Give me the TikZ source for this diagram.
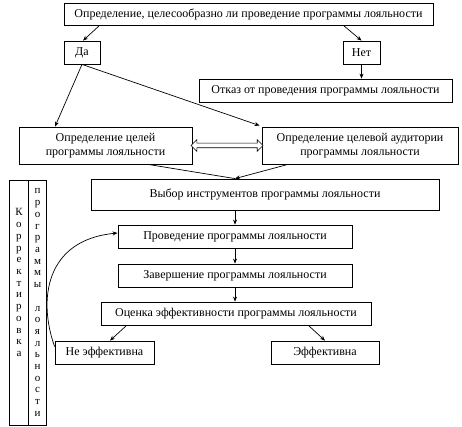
\documentclass[tikz,border=0pt]{standalone}
\usepackage{fontspec}
\setmainfont{Liberation Serif}
\usetikzlibrary{arrows.meta,calc,shapes.arrows}
\begin{document}
\begin{tikzpicture}[x=1pt,y=-1pt,
  box/.style={draw, line width=0.8pt, inner sep=0pt, align=center,
    font=\fontsize{12}{14}\selectfont},
  arr/.style={line width=0.7pt, -{Stealth[length=5pt,width=4pt]}},
  ln/.style={line width=0.7pt},
  colbox/.style={draw, line width=0.8pt, inner sep=0pt, minimum width=18.5pt, minimum height=245pt},
  letter/.style={inner sep=0pt, anchor=base, font=\fontsize{11}{11.7}\selectfont}]
\useasboundingbox (0,0) rectangle (462,427);

\node[box, minimum width=369pt, minimum height=22pt] (top) at (248.5,14) {Определение, целесообразно ли проведение программы лояльности};
\node[box, minimum width=36pt, minimum height=23pt] (da) at (82,52.5) {Да};
\node[box, minimum width=37pt, minimum height=23pt] (net) at (361.5,52.5) {Нет};
\node[box, minimum width=253pt, minimum height=23pt] (otkaz) at (325.5,90.5) {Отказ от проведения программы лояльности};
\node[box, minimum width=173pt, minimum height=37pt] (goals) at (105.5,145.5) {Определение целей\\программы лояльности};
\node[box, minimum width=196pt, minimum height=37pt] (aud) at (360,145.5) {Определение целевой аудитории\\программы лояльности};
\node[box, minimum width=348pt, minimum height=31pt] (vybor) at (265,194.5) {Выбор инструментов программы лояльности};
\node[box, minimum width=234pt, minimum height=23pt] (prov) at (235,236.5) {Проведение программы лояльности};
\node[box, minimum width=234pt, minimum height=23pt] (zav) at (235,275.5) {Завершение программы лояльности};
\node[box, minimum width=270pt, minimum height=23pt] (ocen) at (236,313.5) {Оценка эффективности программы лояльности};
\node[box, minimum width=99pt, minimum height=23pt] (neeff) at (104.5,352.5) {Не эффективна};
\node[box, minimum width=108pt, minimum height=23pt] (eff) at (325,352.5) {Эффективна};

\node[colbox] (korr) at (19,302.5) {};
\node[colbox] (progr) at (37.5,302.5) {};
\foreach [count=\i] \l in {К,о,р,р,е,к,т,и,р,о,в,к,а}
  \node[letter] (k\i) at (19,{216+11.7*(\i-1)}) {\l};
\foreach [count=\i] \l in {п,р,о,г,р,а,м,м,ы}
  \node[letter] (p\i) at (37.5,{194+11.7*(\i-1)}) {\l};
\foreach [count=\i] \l in {л,о,я,л,ь,н,о,с,т,и}
  \node[letter] (q\i) at (37.5,{194+11.7*(\i+9)}) {\l};

% connectors
\draw[arr] ([xshift=36pt]top.south west) -- ([xshift=1pt]da.north);
\draw[arr] ([xshift=-90pt]top.south east) -- (net.north);
\draw[arr] (net.south) -- (net.south |- otkaz.north);
\draw[arr] (da.south) -- ([xshift=-50.5pt]goals.north);
\draw[arr] (da.south) -- ([xshift=-2pt,yshift=1pt]aud.north west);

\node[double arrow, draw, line width=0.6pt, fill=white, inner sep=2pt,
  minimum height=72pt, double arrow head extend=3.5pt] (dbl)
  at ($(goals.east)!0.5!(aud.west)$) {};

\coordinate (m) at (prov.north |- vybor.north);
\draw[ln] ([xshift=42.5pt]goals.south) -- (m);
\draw[arr] ([xshift=-72pt]aud.south) -- (m);
\draw[arr] (prov.north |- vybor.south) -- (prov.north);
\draw[arr] (prov.south) -- (zav.north);
\draw[arr] (zav.south) -- (zav.south |- ocen.north);
\draw[arr] ([xshift=26pt]ocen.south west) -- ([xshift=5.5pt]neeff.north);
\draw[arr] ([xshift=-63pt]ocen.south east) -- (eff.north);
\draw[arr] ([yshift=-6pt]neeff.north west) .. controls (38,300) and (45,240) .. ([yshift=3.5pt]prov.west);
\end{tikzpicture}
\end{document}
